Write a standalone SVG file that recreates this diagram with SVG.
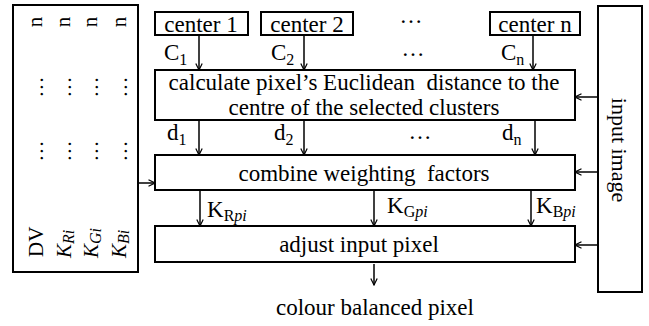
<svg xmlns="http://www.w3.org/2000/svg" width="649" height="326" viewBox="0 0 649 326">
<style>
  .box{fill:#fff;stroke:#000;stroke-width:2}
  .ln{stroke:#000;stroke-width:1.5;fill:none;marker-end:url(#ah)}
  text{font-family:"Liberation Serif","Times New Roman",serif;font-size:23px;fill:#000}
  .r{font-size:21px}
  .c{text-anchor:middle}
  .sub{font-size:16px}
  .it{font-style:italic}
</style>
<defs>
  <marker id="ah" viewBox="0 0 8 8" refX="7" refY="4" markerWidth="8" markerHeight="8" markerUnits="userSpaceOnUse" orient="auto">
    <path d="M0.5,0.8 L7,4 L0.5,7.2" fill="none" stroke="#000" stroke-width="1.2"/>
  </marker>
</defs>
<rect width="649" height="326" fill="#fff"/>

<g id="params">
  <rect class="box" x="13" y="5" width="125" height="267"/>
  <text class="r" transform="translate(43,257) rotate(-90)">DV</text>
  <text class="r" transform="translate(71,258) rotate(-90)"><tspan class="it">K</tspan><tspan class="sub it" dy="3">Ri</tspan></text>
  <text class="r" transform="translate(98,258) rotate(-90)"><tspan class="it">K</tspan><tspan class="sub it" dy="3">Gi</tspan></text>
  <text class="r" transform="translate(126,258) rotate(-90)"><tspan class="it">K</tspan><tspan class="sub it" dy="3">Bi</tspan></text>
  <text class="r c" transform="translate(43,151) rotate(-90)">…</text>
  <text class="r c" transform="translate(71,151) rotate(-90)">…</text>
  <text class="r c" transform="translate(98,151) rotate(-90)">…</text>
  <text class="r c" transform="translate(127,151) rotate(-90)">…</text>
  <text class="r c" transform="translate(43,87) rotate(-90)">…</text>
  <text class="r c" transform="translate(71,87) rotate(-90)">…</text>
  <text class="r c" transform="translate(98,87) rotate(-90)">…</text>
  <text class="r c" transform="translate(127,87) rotate(-90)">…</text>
  <text class="r c" transform="translate(42,22) rotate(-90)">n</text>
  <text class="r c" transform="translate(70,22) rotate(-90)">n</text>
  <text class="r c" transform="translate(97,22) rotate(-90)">n</text>
  <text class="r c" transform="translate(126,22) rotate(-90)">n</text>
</g>

<g id="center1">
  <rect class="box" x="155" y="12" width="93" height="23"/>
  <text class="c" x="201" y="32">center 1</text>
</g>
<g id="center2">
  <rect class="box" x="261" y="12" width="92" height="23"/>
  <text class="c" x="307" y="32">center 2</text>
</g>
<g id="centern">
  <rect class="box" x="490" y="12" width="90" height="23"/>
  <text class="c" x="535" y="32">center n</text>
</g>
<text class="c" x="411" y="23">…</text>

<g id="calc">
  <rect class="box" x="155" y="70" width="420" height="50"/>
  <text class="c" x="364" y="90" xml:space="preserve">calculate pixel’s Euclidean  distance to the</text>
  <text class="c" x="364" y="115">centre of the selected clusters</text>
</g>

<g id="combine">
  <rect class="box" x="155" y="155" width="420" height="35"/>
  <text class="c" x="364" y="181" xml:space="preserve">combine weighting  factors</text>
</g>

<g id="adjust">
  <rect class="box" x="155" y="226" width="420" height="36"/>
  <text class="c" x="359" y="252">adjust input pixel</text>
</g>

<g id="input">
  <rect class="box" x="598" y="6" width="44" height="286"/>
  <text class="c" style="font-size:22px" transform="translate(612,150) rotate(90)">input image</text>
</g>

<g id="output">
  <text class="c" x="375" y="315">colour balanced pixel</text>
</g>

<g id="connectors">
  <line class="ln" x1="199" y1="35" x2="199" y2="70"/>
  <line class="ln" x1="304" y1="35" x2="304" y2="70"/>
  <line class="ln" x1="533" y1="35" x2="533" y2="70"/>
  <line class="ln" x1="199" y1="120" x2="199" y2="155"/>
  <line class="ln" x1="304" y1="120" x2="304" y2="155"/>
  <line class="ln" x1="535" y1="120" x2="535" y2="155"/>
  <line class="ln" x1="200" y1="190" x2="200" y2="226"/>
  <line class="ln" x1="374" y1="190" x2="374" y2="226"/>
  <line class="ln" x1="531" y1="190" x2="531" y2="226"/>
  <line class="ln" x1="374" y1="264" x2="374" y2="285"/>
  <line class="ln" x1="138" y1="183" x2="155" y2="183"/>
  <line class="ln" x1="598" y1="97" x2="575" y2="97"/>
  <line class="ln" x1="598" y1="172" x2="575" y2="172"/>
  <line class="ln" x1="598" y1="245" x2="575" y2="245"/>
</g>

<g id="labels">
  <text x="164" y="60">C<tspan class="sub" dy="5">1</tspan></text>
  <text x="271" y="60">C<tspan class="sub" dy="5">2</tspan></text>
  <text x="501" y="60">C<tspan class="sub" dy="5">n</tspan></text>
  <text class="c" x="413" y="56">…</text>
  <text x="167" y="140">d<tspan class="sub" dy="5">1</tspan></text>
  <text x="274" y="140">d<tspan class="sub" dy="5">2</tspan></text>
  <text x="502" y="140">d<tspan class="sub" dy="5">n</tspan></text>
  <text class="c" x="420" y="139">…</text>
  <text x="207" y="217">K<tspan class="sub" dy="4">R</tspan><tspan class="sub it">pi</tspan></text>
  <text x="387" y="213">K<tspan class="sub" dy="4">G</tspan><tspan class="sub it">pi</tspan></text>
  <text x="536" y="213">K<tspan class="sub" dy="4">B</tspan><tspan class="sub it">pi</tspan></text>
</g>
</svg>
